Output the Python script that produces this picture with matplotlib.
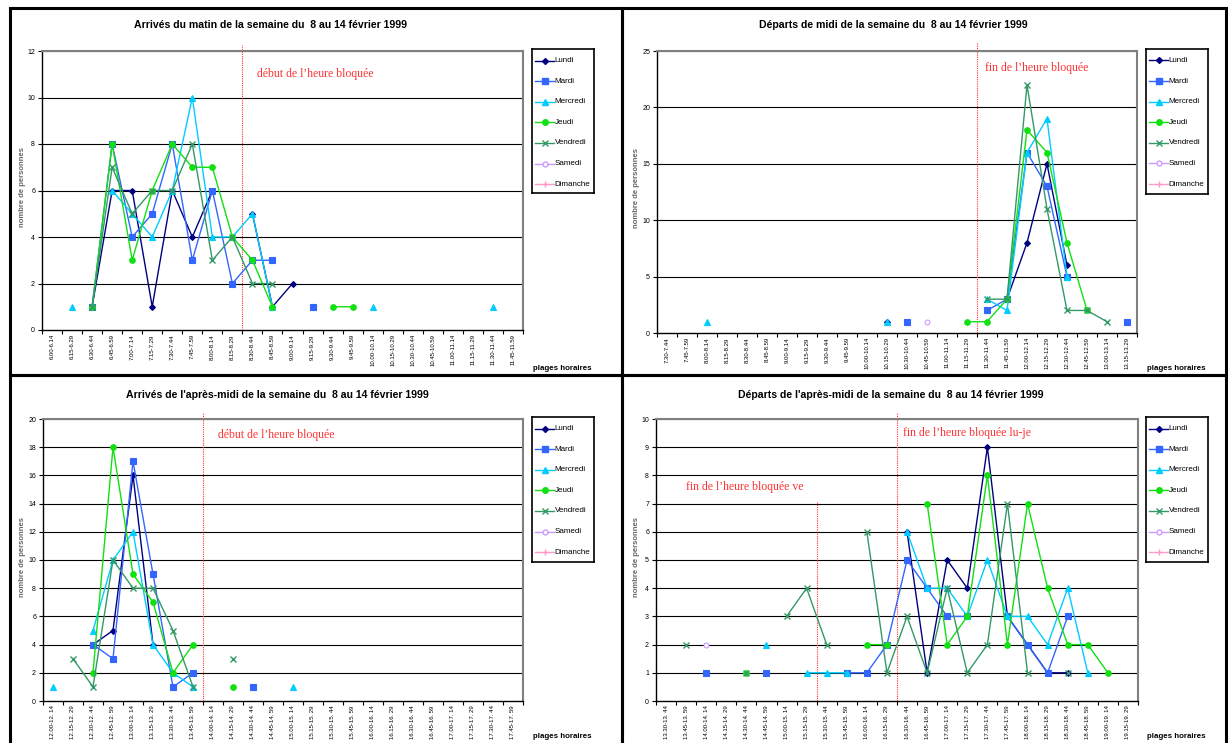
import numpy as np
import matplotlib
matplotlib.use("Agg")
import matplotlib.pyplot as plt
from matplotlib.patches import Rectangle
from matplotlib.lines import Line2D

plt.rcParams['font.family'] = ['Liberation Sans', 'DejaVu Sans']

W, H = 1228, 743
n = np.nan

# ---------------- data ----------------
days = ["Lundi", "Mardi", "Mercredi", "Jeudi", "Vendredi", "Samedi", "Dimanche"]

cats1 = ["6.00-6.14", "6.15-6.29", "6.30-6.44", "6.45-6.59", "7.00-7.14", "7.15-7.29",
         "7.30-7.44", "7.45-7.59", "8.00-8.14", "8.15-8.29", "8.30-8.44", "8.45-8.59",
         "9.00-9.14", "9.15-9.29", "9.30-9.44", "9.45-9.59", "10.00-10.14", "10.15-10.29",
         "10.30-10.44", "10.45-10.59", "11.00-11.14", "11.15-11.29", "11.30-11.44", "11.45-11.59"]
lundi1    = [n, n, 1, 6, 6, 1, 6, 4, 6, n, 5, 1, 2, n, n, n, n, n, n, n, n, n, n, n]
mardi1    = [n, n, 1, 8, 4, 5, 8, 3, 6, 2, 3, 3, n, 1, n, n, n, n, n, n, n, n, n, n]
mercredi1 = [n, 1, n, 6, 5, 4, 6, 10, 4, 4, 5, 1, n, n, n, n, 1, n, n, n, n, n, 1, n]
jeudi1    = [n, n, 1, 8, 3, 6, 8, 7, 7, 4, 3, 1, n, n, 1, 1, n, n, n, n, n, n, n, n]
vendredi1 = [n, n, 1, 7, 5, 6, 6, 8, 3, 4, 2, 2, n, n, n, n, n, n, n, n, n, n, n, n]
samedi1   = [n] * 24
dimanche1 = [n] * 24

cats2 = ["7.30-7.44", "7.45-7.59", "8.00-8.14", "8.15-8.29", "8.30-8.44", "8.45-8.59",
         "9.00-9.14", "9.15-9.29", "9.30-9.44", "9.45-9.59", "10.00-10.14", "10.15-10.29",
         "10.30-10.44", "10.45-10.59", "11.00-11.14", "11.15-11.29", "11.30-11.44", "11.45-11.59",
         "12.00-12.14", "12.15-12.29", "12.30-12.44", "12.45-12.59", "13.00-13.14", "13.15-13.29"]
lundi2    = [n, n, n, n, n, n, n, n, n, n, n, 1, n, n, n, n, n, 3, 8, 15, 6, n, n, n]
mardi2    = [n, n, n, n, n, n, n, n, n, n, n, n, 1, n, n, n, 2, 3, 16, 13, 5, n, n, 1]
mercredi2 = [n, n, 1, n, n, n, n, n, n, n, n, 1, n, n, n, n, 3, 2, 16, 19, 5, n, n, n]
jeudi2    = [n, n, n, n, n, n, n, n, n, n, n, n, n, n, n, 1, 1, 3, 18, 16, 8, 2, n, n]
vendredi2 = [n, n, n, n, n, n, n, n, n, n, n, n, n, n, n, n, 3, 3, 22, 11, 2, 2, 1, n]
samedi2   = [n, n, n, n, n, n, n, n, n, n, n, n, n, 1, n, n, n, n, n, n, n, n, n, n]
dimanche2 = [n] * 24

cats3 = ["12.00-12. 14", "12.15-12. 29", "12.30-12. 44", "12.45-12. 59", "13.00-13. 14",
         "13.15-13. 29", "13.30-13. 44", "13.45-13. 59", "14.00-14. 14", "14.15-14. 29",
         "14.30-14. 44", "14.45-14. 59", "15.00-15. 14", "15.15-15. 29", "15.30-15. 44",
         "15.45-15. 59", "16.00-16. 14", "16.15-16. 29", "16.30-16. 44", "16.45-16. 59",
         "17.00-17. 14", "17.15-17. 29", "17.30-17. 44", "17.45-17. 59"]
lundi3    = [n, n, 4, 5, 16, 4, n, n, n, n, n, n, n, n, n, n, n, n, n, n, n, n, n, n]
mardi3    = [n, n, 4, 3, 17, 9, 1, 2, n, n, 1, n, n, n, n, n, n, n, n, n, n, n, n, n]
mercredi3 = [1, n, 5, 10, 12, 4, 2, 1, n, n, n, n, 1, n, n, n, n, n, n, n, n, n, n, n]
jeudi3    = [n, n, 2, 18, 9, 7, 2, 4, n, 1, n, n, n, n, n, n, n, n, n, n, n, n, n, n]
vendredi3 = [n, 3, 1, 10, 8, 8, 5, 1, n, 3, n, n, n, n, n, n, n, n, n, n, n, n, n, n]
samedi3   = [n] * 24
dimanche3 = [n] * 24

cats4 = ["13.30-13. 44", "13.45-13. 59", "14.00-14. 14", "14.15-14. 29", "14.30-14. 44",
         "14.45-14. 59", "15.00-15. 14", "15.15-15. 29", "15.30-15. 44", "15.45-15. 59",
         "16.00-16. 14", "16.15-16. 29", "16.30-16. 44", "16.45-16. 59", "17.00-17. 14",
         "17.15-17. 29", "17.30-17. 44", "17.45-17. 59", "18.00-18. 14", "18.15-18. 29",
         "18.30-18. 44", "18.45-18. 59", "19.00-19. 14", "19.15-19. 29"]
lundi4    = [n, n, n, n, n, n, n, n, n, n, n, n, 6, 1, 5, 4, 9, 3, 2, 1, 1, n, n, n]
mardi4    = [n, n, 1, n, n, 1, n, n, n, 1, 1, 2, 5, 4, 3, 3, n, 3, 2, 1, 3, n, n, n]
mercredi4 = [n, n, n, n, n, 2, n, 1, 1, 1, n, n, 6, 4, 4, 3, 5, 3, 3, 2, 4, 1, n, n]
jeudi4    = [n, n, n, n, 1, n, n, n, n, n, 2, 2, n, 7, 2, 3, 8, 2, 7, 4, 2, 2, 1, n]
vendredi4 = [n, 2, n, n, 1, n, 3, 4, 2, n, 6, 1, 3, 1, 4, 1, 2, 7, 1, n, 1, n, n, n]
samedi4   = [n, n, 2, n, n, n, n, n, n, n, n, n, n, n, n, n, n, n, n, n, n, n, n, n]
dimanche4 = [n] * 24

titles = ["Arrivés du matin de la semaine du  8 au 14 février 1999",
          "Départs de midi de la semaine du  8 au 14 février 1999",
          "Arrivés de l'après-midi de la semaine du  8 au 14 février 1999",
          "Départs de l'après-midi de la semaine du  8 au 14 février 1999"]

# ---------------- styles ----------------
colors = ["#000080", "#3366ff", "#00ccff", "#11e011", "#339966", "#cc99ff", "#ff99cc"]
markers = ["D", "s", "^", "o", "x", "o", "+"]
msizes = [3.0, 4.0, 4.0, 4.0, 4.0, 3.5, 5.0]
mfcs = ["#000080", "#3366ff", "#00ccff", "#11e011", "#339966", "white", "#ff99cc"]

fig = plt.figure(figsize=(W / 100, H / 100), dpi=100)


def px_axes(x0, y0, x1, y1, **kw):
    return fig.add_axes([x0 / W, 1 - y1 / H, (x1 - x0) / W, (y1 - y0) / H], **kw)


def fx(x):
    return x / W


def fy(y):
    return 1 - y / H


# panel frames
for (x0, y0, x1, y1) in [(10, 8, 622, 375), (622, 8, 1226, 375),
                         (10, 375, 622, 745), (622, 375, 1226, 745)]:
    fig.add_artist(Rectangle((fx(x0), fy(y1)), fx(x1 - x0), (y1 - y0) / H,
                             transform=fig.transFigure, fill=False,
                             edgecolor="black", lw=2.2, zorder=0))

panels = [
    dict(box=(42, 51, 523, 330), cats=cats1,
         series=[lundi1, mardi1, mercredi1, jeudi1, vendredi1, samedi1, dimanche1],
         ymax=12, ystep=2, title=(271, 25), leg=(532, 49, 594, 193), ph_y=369, yl=(23, 187)),
    dict(box=(657, 51, 1137, 333), cats=cats2,
         series=[lundi2, mardi2, mercredi2, jeudi2, vendredi2, samedi2, dimanche2],
         ymax=25, ystep=5, title=(893, 25), leg=(1146, 49, 1208, 194), ph_y=369, yl=(636, 188)),
    dict(box=(43, 419, 523, 701), cats=cats3,
         series=[lundi3, mardi3, mercredi3, jeudi3, vendredi3, samedi3, dimanche3],
         ymax=20, ystep=2, title=(277, 395), leg=(532, 417, 594, 562), ph_y=736, yl=(23, 557)),
    dict(box=(656, 419, 1138, 701), cats=cats4,
         series=[lundi4, mardi4, mercredi4, jeudi4, vendredi4, samedi4, dimanche4],
         ymax=10, ystep=1, title=(891, 395), leg=(1146, 417, 1208, 562), ph_y=736, yl=(636, 557)),
]

red = "#ff3333"
axes = []
for pi, p in enumerate(panels):
    x0, y0, x1, y1 = p["box"]
    ax = px_axes(x0, y0, x1, y1)
    axes.append(ax)
    ncat = len(p["cats"])
    xs = np.arange(ncat)
    ax.set_xlim(-0.5, ncat - 0.5)
    ax.set_ylim(0, p["ymax"])
    yt = np.arange(0, p["ymax"] + 0.01, p["ystep"])
    ax.set_yticks(yt)
    ax.set_yticklabels([f"{int(v)}" for v in yt], fontsize=5)
    for v in yt[1:]:
        ax.axhline(v, color="black", lw=0.8, zorder=1)
    ax.set_xticks(np.arange(-0.5, ncat, 1.0))
    ax.set_xticklabels([])
    ax.set_xticks(xs, minor=True)
    ax.set_xticklabels(p["cats"], minor=True, rotation=90, fontsize=4.3)
    ax.tick_params(axis="x", which="major", direction="out", length=3, width=0.8)
    ax.tick_params(axis="x", which="minor", length=0, pad=3)
    ax.tick_params(axis="y", direction="out", length=3, width=0.8, pad=2)
    for s in ["left", "bottom"]:
        ax.spines[s].set_color("black")
        ax.spines[s].set_linewidth(1.0)
    for s in ["top", "right"]:
        ax.spines[s].set_color("#808080")
        ax.spines[s].set_linewidth(1.5)
    for i, ser in enumerate(p["series"]):
        ax.plot(xs, np.array(ser, dtype=float), color=colors[i], marker=markers[i],
                ms=msizes[i], mfc=mfcs[i], mec=colors[i], mew=1.0 if i == 4 else 0.8,
                lw=1.0, zorder=3 + i)
    # title
    fig.text(fx(p["title"][0]), fy(p["title"][1]), titles[pi], ha="center", va="center",
             fontsize=7.6, fontweight="bold")
    # y label
    fig.text(fx(p["yl"][0]), fy(p["yl"][1]), "nombre de personnes", rotation=90,
             ha="center", va="center", fontsize=5.5, fontweight="bold", color="#666666")
    # x label
    lx0 = p["leg"][0] + 1
    fig.text(fx(lx0), fy(p["ph_y"]), "plages horaires", ha="left", va="center",
             fontsize=5.7, fontweight="bold")
    # legend box
    lb = p["leg"]
    lax = px_axes(*lb)
    lax.set_xlim(0, lb[2] - lb[0])
    lax.set_ylim(lb[3] - lb[1], 0)
    lax.set_xticks([])
    lax.set_yticks([])
    for s in lax.spines.values():
        s.set_linewidth(1.2)
        s.set_color("black")
    for i, d in enumerate(days):
        yy = 11.5 + i * 20.6
        lax.add_line(Line2D([3, 22], [yy, yy], color=colors[i], lw=1.0))
        lax.add_line(Line2D([12.5], [yy], color=colors[i], marker=markers[i],
                            ms=msizes[i], mfc=mfcs[i], mec=colors[i], lw=0))
        lax.text(22.5, yy, d, fontsize=5.8, va="center", ha="left")

serif = ['Liberation Serif', 'DejaVu Serif']

# blocked-hour markers
ax = axes[0]
ax.axvline(9.5, ymin=0, ymax=1.02, color=red, lw=0.8, ls=(0, (1, 1)), clip_on=False, zorder=2)
ax.text(10.25, 11.0, "début de l’heure bloquée", color=red, fontsize=8.5, family=serif,
        ha="left", va="center")

ax = axes[1]
ax.axvline(15.5, ymin=0, ymax=1.03, color=red, lw=0.8, ls=(0, (1, 1)), clip_on=False, zorder=2)
ax.text(15.9, 23.5, "fin de l’heure bloquée", color=red, fontsize=8.5, family=serif,
        ha="left", va="center")

ax = axes[2]
ax.axvline(7.5, ymin=0, ymax=1.02, color=red, lw=0.8, ls=(0, (1, 1)), clip_on=False, zorder=2)
ax.text(8.25, 18.85, "début de l’heure bloquée", color=red, fontsize=8.5, family=serif,
        ha="left", va="center")

ax = axes[3]
ax.axvline(7.5, ymin=0, ymax=0.705, color=red, lw=0.8, ls=(0, (1, 1)), zorder=2)
ax.axvline(11.5, ymin=0, ymax=1.02, color=red, lw=0.8, ls=(0, (1, 1)), clip_on=False, zorder=2)
ax.text(1.0, 7.6, "fin de l’heure bloquée ve", color=red, fontsize=8.5, family=serif,
        ha="left", va="center")
ax.text(11.8, 9.5, "fin de l’heure bloquée lu-je", color=red, fontsize=8.5, family=serif,
        ha="left", va="center")

fig.savefig("out.png", dpi=100)
